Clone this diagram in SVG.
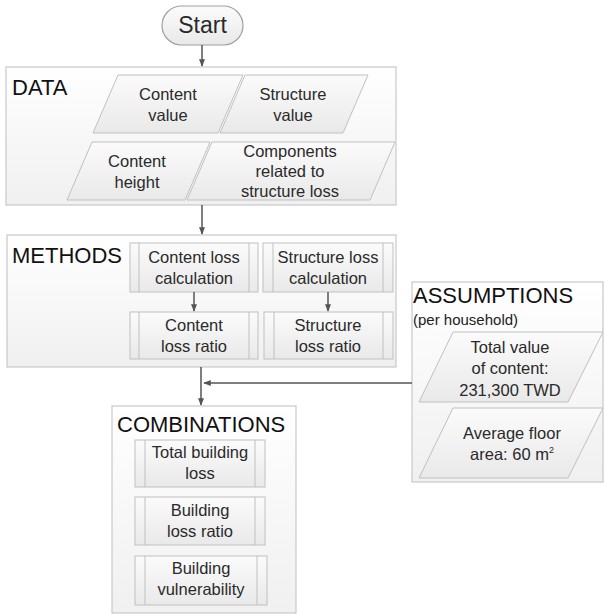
<svg xmlns="http://www.w3.org/2000/svg" width="606" height="616" viewBox="0 0 606 616">
<defs>
<linearGradient id="gBox" x1="0" y1="0" x2="0" y2="1">
<stop offset="0" stop-color="#ffffff"/><stop offset="1" stop-color="#f0f0f0"/>
</linearGradient>
<linearGradient id="gShape" x1="0" y1="0" x2="0" y2="1">
<stop offset="0" stop-color="#fbfbfb"/><stop offset="1" stop-color="#e9e9e9"/>
</linearGradient>
<marker id="arr" viewBox="0 0 10 10" refX="9" refY="5" markerWidth="5" markerHeight="5" orient="auto-start-reverse">
<path d="M0,1 L10,5 L0,9 z" fill="#555"/>
</marker>
</defs>
<style>
.box{fill:url(#gBox);stroke:#c8c8c8;stroke-width:1.2}
.shape{fill:url(#gShape);stroke:#c0c0c0;stroke-width:1}
.inner{stroke:#c0c0c0;stroke-width:1;fill:none}
.pill{fill:url(#gShape);stroke:#a0a0a0;stroke-width:1.2}
.head{font-family:"Liberation Sans",Arial,sans-serif;font-size:22px;fill:#111}
.t{font-family:"Liberation Sans",Arial,sans-serif;font-size:16.5px;fill:#2a2a2a;text-anchor:middle}
.sub{font-family:"Liberation Sans",Arial,sans-serif;font-size:15px;fill:#222}
.conn{stroke:#555;stroke-width:1.5;fill:none}
</style>

<g id="start">
<rect class="pill" x="162" y="6" width="81" height="39" rx="19.5"/>
<text x="202.5" y="33" class="t" style="font-size:23px">Start</text>
</g>

<g id="data">
<rect class="box" x="6" y="67" width="390" height="138"/>
<text class="head" x="12" y="95">DATA</text>
<g id="content-value">
<polygon class="shape" points="118,75 243,75 218,133 93,133"/>
<text class="t" x="168" y="100">Content</text><text class="t" x="168" y="121">value</text>
</g>
<g id="structure-value">
<polygon class="shape" points="245,75 368,75 343,133 220,133"/>
<text class="t" x="293" y="100">Structure</text><text class="t" x="293" y="121">value</text>
</g>
<g id="content-height">
<polygon class="shape" points="92,142 210,142 185,200 67,200"/>
<text class="t" x="137" y="167">Content</text><text class="t" x="137" y="188">height</text>
</g>
<g id="components">
<polygon class="shape" points="212,142 395,142 370,200 187,200"/>
<text class="t" x="290" y="157">Components</text><text class="t" x="290" y="177">related to</text><text class="t" x="290" y="197">structure loss</text>
</g>
</g>

<g id="methods">
<rect class="box" x="7" y="235" width="389" height="132"/>
<text class="head" x="12" y="263">METHODS</text>
<g id="content-loss-calc">
<rect class="shape" x="130" y="243" width="128" height="49"/>
<path class="inner" d="M139,243 V292 M249,243 V292"/>
<text class="t" x="194" y="263">Content loss</text><text class="t" x="194" y="284">calculation</text>
</g>
<g id="structure-loss-calc">
<rect class="shape" x="263" y="243" width="130" height="49"/>
<path class="inner" d="M273,243 V292 M383,243 V292"/>
<text class="t" x="328" y="263">Structure loss</text><text class="t" x="328" y="284">calculation</text>
</g>
<g id="content-loss-ratio">
<rect class="shape" x="130" y="312" width="128" height="47"/>
<path class="inner" d="M139,312 V359 M249,312 V359"/>
<text class="t" x="194" y="331">Content</text><text class="t" x="194" y="352">loss ratio</text>
</g>
<g id="structure-loss-ratio">
<rect class="shape" x="264" y="312" width="129" height="47"/>
<path class="inner" d="M274,312 V359 M383,312 V359"/>
<text class="t" x="328" y="331">Structure</text><text class="t" x="328" y="352">loss ratio</text>
</g>
</g>

<g id="assumptions">
<rect class="box" x="412" y="282" width="191" height="200"/>
<text class="head" x="413" y="303">ASSUMPTIONS</text>
<text class="sub" x="413" y="325">(per household)</text>
<g id="total-value">
<polygon class="shape" points="453,332 603,332 568,402 419,402"/>
<text class="t" x="510" y="353">Total value</text><text class="t" x="510" y="374">of content:</text><text class="t" x="510" y="396">231,300 TWD</text>
</g>
<g id="floor-area">
<polygon class="shape" points="453,408 603,408 568,478 419,478"/>
<text class="t" x="512" y="439">Average floor</text>
<text class="t" x="512" y="460">area: 60 m<tspan dy="-7" style="font-size:9px">2</tspan></text>
</g>
</g>

<g id="combinations">
<rect class="box" x="112" y="406" width="184" height="207"/>
<text class="head" x="117" y="432">COMBINATIONS</text>
<g id="total-building-loss">
<rect class="shape" x="135" y="440" width="130" height="47"/>
<path class="inner" d="M145,440 V487 M255,440 V487"/>
<text class="t" x="200" y="458">Total building</text><text class="t" x="200" y="479">loss</text>
</g>
<g id="building-loss-ratio">
<rect class="shape" x="135" y="497" width="130" height="48"/>
<path class="inner" d="M145,497 V545 M255,497 V545"/>
<text class="t" x="200" y="516">Building</text><text class="t" x="200" y="537">loss ratio</text>
</g>
<g id="building-vulnerability">
<rect class="shape" x="135" y="556" width="132" height="49"/>
<path class="inner" d="M145,556 V605 M257,556 V605"/>
<text class="t" x="201" y="574">Building</text><text class="t" x="201" y="595">vulnerability</text>
</g>
</g>

<g id="connectors">
<line class="conn" x1="202" y1="45" x2="202" y2="66" marker-end="url(#arr)"/>
<line class="conn" x1="202" y1="205" x2="202" y2="234" marker-end="url(#arr)"/>
<line class="conn" x1="194" y1="292" x2="194" y2="311" marker-end="url(#arr)"/>
<line class="conn" x1="328" y1="292" x2="328" y2="311" marker-end="url(#arr)"/>
<line class="conn" x1="201" y1="367" x2="201" y2="405" marker-end="url(#arr)"/>
<line class="conn" x1="412" y1="383" x2="204" y2="383" marker-end="url(#arr)"/>
</g>
</svg>
